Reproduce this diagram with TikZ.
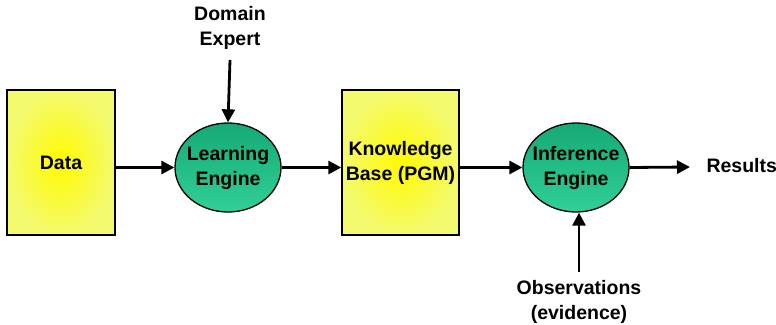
\documentclass[tikz,border=0pt]{standalone}
\usepackage{fontspec}
\setmainfont{Liberation Sans}
\usetikzlibrary{arrows.meta,shapes.geometric}
\definecolor{boxin}{RGB}{255,250,0}
\definecolor{boxout}{RGB}{244,250,110}
\definecolor{engtop}{RGB}{22,170,118}
\definecolor{engbot}{RGB}{48,208,150}
\tikzset{
  txt/.style={font=\fontsize{19.5}{25}\selectfont\bfseries},
  block/.style={txt, draw=black, line width=1.3pt, minimum height=145pt,
    inner color=boxin, outer color=boxout, align=center},
  engine/.style={txt, ellipse, draw=black, line width=1.3pt, minimum width=106pt, minimum height=89pt,
    inner xsep=-12pt, inner ysep=0pt, top color=engtop, bottom color=engbot, align=center},
  label/.style={txt, align=center},
  flow/.style={line width=2.8pt, -{Triangle[length=13pt,width=13pt]}}
}
\begin{document}
\begin{tikzpicture}[x=1pt,y=-1pt]
\useasboundingbox (0,0) rectangle (776,324);
\node[block, minimum width=108pt] (data) at (61,162.5) {Data};
\node[engine] (learn) at (228,167.5) {Learning\\Engine};
\node[block, minimum width=117pt] (kb) at (400.5,162.5) {Knowledge\\Base (PGM)};
\node[engine] (infer) at (576,167.5) {Inference\\Engine};
\node[label, anchor=west] (res) at (703,166) {Results};
\node[label] (expert) at (230,28) {Domain\\Expert};
\node[label] (obs) at (579,302) {Observations\\(evidence)};
\coordinate (expbot) at (230,60);
\coordinate (obstop) at (579,272);
\coordinate (resin) at (690,167);
\draw[flow] (data.east |- learn) -- (learn.west);
\draw[flow] (learn.east) -- (kb.west |- learn);
\draw[flow] (kb.east |- infer) -- (infer.west);
\draw[flow] (infer.east) -- (resin);
\draw[flow] (expbot) -- (learn.north);
\draw[flow] (obstop) -- (obstop |- infer.south);
\end{tikzpicture}
\end{document}
